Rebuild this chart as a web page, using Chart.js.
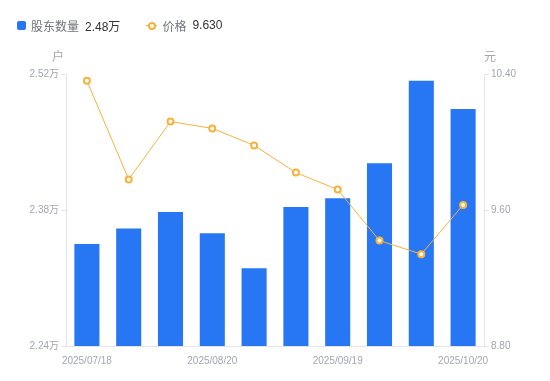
<!DOCTYPE html>
<html>
<head>
<meta charset="utf-8">
<script src="https://cdn.jsdelivr.net/npm/chart.js@4.4.1/dist/chart.umd.min.js"></script>
<style>
  html, body { margin: 0; padding: 0; background: #fff; }
  #wrap { position: relative; width: 550px; height: 381px; }
  #legend {
    position: absolute; left: 17px; top: 16px; height: 18px;
    font: 12px "Liberation Sans", "Noto Sans CJK SC", sans-serif;
    display: flex; align-items: center; white-space: nowrap;
  }
  .item { display: flex; align-items: center; margin-right: 26px; }
  .name { color: #70737c; margin-right: 6px; }
  .val { color: #333; }
  .sq { width: 9px; height: 9px; border-radius: 2px; background: #2777f4; margin-right: 5px; }
  .ln { position: relative; width: 11px; height: 9px; margin-right: 5px; }
  .ln:before { content: ''; position: absolute; left: 0; right: 0; top: 4px; height: 1px; background: #f7b23b; }
  .ln:after { content: ''; position: absolute; left: 2px; top: 1px; width: 4px; height: 4px; border: 2px solid #f7b23b; border-radius: 50%; background: #fff; }
</style>
</head>
<body>
<div id="wrap">
  <canvas id="chart"></canvas>
  <div id="legend"></div>
</div>
<script>
// dates of each report, only some are printed on the axis
const dates = ['2025/07/18', '2025/07/31', '2025/08/08', '2025/08/20', '2025/08/29',
               '2025/09/10', '2025/09/19', '2025/09/30', '2025/10/10', '2025/10/20'];
const shownDates = ['2025/07/18', '2025/08/20', '2025/09/19', '2025/10/20'];
// 股东数量, 万户
const holders = [2.345, 2.361, 2.378, 2.356, 2.320, 2.383, 2.392, 2.428, 2.513, 2.484];
// 价格, 元
const prices = [10.36, 9.78, 10.12, 10.08, 9.98, 9.82, 9.72, 9.42, 9.34, 9.63];
const holderTicks = [2.24, 2.38, 2.52];
const priceTicks = [8.80, 9.60, 10.40];

const BLUE = '#2777f4';
const ORANGE = '#f7b23b';
const AXIS = '#e3e4e8';
const LABEL = '#a3a6b0';

Chart.defaults.font.family = '"Liberation Sans", "Noto Sans CJK SC", sans-serif';
Chart.defaults.font.size = 10;
Chart.defaults.color = LABEL;

document.getElementById('legend').innerHTML =
    '<span class="item"><span class="sq"></span><span class="name">股东数量</span>' +
    '<span class="val">' + holders[holders.length - 1].toFixed(2) + '万</span></span>' +
    '<span class="item"><span class="ln"></span><span class="name">价格</span>' +
    '<span class="val">' + prices[prices.length - 1].toFixed(3) + '</span></span>';

// unit text above each y axis
const unitPlugin = {
    id: 'units',
    afterDraw(chart) {
        const c = chart.ctx;
        const area = chart.chartArea;
        c.save();
        c.font = '12px "Liberation Sans", "Noto Sans CJK SC", sans-serif';
        c.fillStyle = LABEL;
        c.textBaseline = 'middle';
        c.textAlign = 'center';
        c.fillText('户', area.left - 8, area.top - 16);
        c.fillText('元', area.right + 6, area.top - 16);
        c.restore();
    }
};

new Chart(document.getElementById('chart'), {
    data: {
        labels: dates,
        datasets: [
            {
                type: 'line',
                label: '价格',
                data: prices,
                yAxisID: 'y1',
                borderColor: ORANGE,
                borderWidth: 1,
                pointRadius: 3,
                pointBorderWidth: 2,
                pointBackgroundColor: '#fff',
                pointBorderColor: ORANGE,
                tension: 0,
                order: 0
            },
            {
                type: 'bar',
                label: '股东数量',
                data: holders,
                yAxisID: 'y',
                backgroundColor: BLUE,
                barPercentage: 0.6,
                categoryPercentage: 1,
                order: 1
            }
        ]
    },
    options: {
        responsive: true,
        maintainAspectRatio: false,
        animation: false,
        layout: { padding: { top: 74, left: 0, right: 0, bottom: 0 } },
        plugins: {
            legend: { display: false },
            tooltip: { enabled: false }
        },
        scales: {
            x: {
                grid: { display: false },
                border: { color: AXIS },
                afterFit: s => { s.height = 35; },
                ticks: {
                    autoSkip: false,
                    maxRotation: 0,
                    padding: 1,
                    callback: function (v, i) {
                        const d = dates[i];
                        return shownDates.includes(d) ? d : '';
                    }
                }
            },
            y: {
                position: 'left',
                min: holderTicks[0],
                max: holderTicks[holderTicks.length - 1],
                afterBuildTicks: s => { s.ticks = holderTicks.map(v => ({ value: v })); },
                afterFit: s => { s.width = 66; },
                grid: { drawOnChartArea: false, color: AXIS, tickLength: 5 },
                border: { color: AXIS },
                ticks: {
                    padding: 2,
                    callback: v => v.toFixed(2) + '万'
                }
            },
            y1: {
                position: 'right',
                min: priceTicks[0],
                max: priceTicks[priceTicks.length - 1],
                afterBuildTicks: s => { s.ticks = priceTicks.map(v => ({ value: v })); },
                afterFit: s => { s.width = 66; },
                grid: { drawOnChartArea: false, color: AXIS, tickLength: 5 },
                border: { color: AXIS },
                ticks: {
                    padding: 2,
                    callback: v => v.toFixed(2)
                }
            }
        }
    },
    plugins: [unitPlugin]
});
</script>
</body>
</html>
